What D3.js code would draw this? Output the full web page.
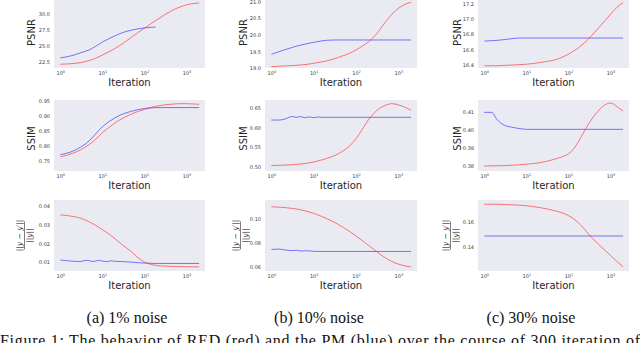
<!DOCTYPE html>
<html><head><meta charset="utf-8">
<script src="https://cdn.jsdelivr.net/npm/d3@7"></script>
<style>html,body{margin:0;padding:0;background:#fff;}svg{display:block;}</style>
</head><body>
<svg id="chart" width="640" height="343"></svg>
<script>
// ---------------- data ----------------
const iterations = [1,2,3,5,7,10,15,20,30,50,70,100,150,200,300,500,700,1000,1500,2000];

// (a) 1% noise
const redPsnr1  = [22.1,22.2,22.35,22.7,23.05,23.55,24.15,24.6,25.35,26.4,27.1,27.8,28.6,29.15,29.9,30.75,31.15,31.5,31.72,31.8];
const pmIterPsnr1 = [1,2,3,5,7,10,15,20,30,50,70,100,150,185];
const pmPsnr1   = [23.1,23.5,23.9,24.4,24.95,25.6,26.2,26.6,27.1,27.5,27.7,27.85,27.95,28.0];
const redSsim1  = [0.763,0.775,0.786,0.805,0.822,0.843,0.863,0.876,0.891,0.906,0.914,0.921,0.928,0.932,0.936,0.939,0.940,0.940,0.939,0.938];
const pmSsim1   = [0.770,0.782,0.795,0.818,0.840,0.863,0.882,0.893,0.905,0.915,0.920,0.924,0.926,0.927,0.927,0.927,0.927,0.927,0.927,0.927];
const redRes1   = [0.0351,0.0343,0.0334,0.0313,0.0295,0.0273,0.0247,0.0225,0.0192,0.0155,0.0125,0.0101,0.0088,0.0083,0.008,0.0078,0.0077,0.0077,0.0076,0.0076];
const pmIterRes1 = [1,1.5,2,3,4,5,6,8,10,13,16,20,30,50,70,100,200,2000];
const pmRes1    = [0.0112,0.0108,0.0106,0.0104,0.011,0.0108,0.0104,0.011,0.0107,0.0104,0.0108,0.0105,0.0104,0.0101,0.0098,0.0096,0.0094,0.0094];

// (b) 10% noise
const redPsnr2  = [19.05,19.07,19.08,19.1,19.12,19.15,19.19,19.22,19.28,19.38,19.45,19.55,19.69,19.8,20.02,20.4,20.62,20.8,20.93,20.98];
const pmPsnr2   = [19.42,19.55,19.62,19.7,19.74,19.78,19.82,19.84,19.85,19.85,19.85,19.85,19.85,19.85,19.85,19.85,19.85,19.85,19.85,19.85];
const redSsim2  = [0.503,0.504,0.505,0.507,0.509,0.512,0.517,0.521,0.528,0.541,0.553,0.572,0.601,0.622,0.643,0.658,0.662,0.659,0.652,0.645];
const pmIterSsim2 = [1,1.5,2,2.5,3,4,5,6,8,10,13,16,20,2000];
const pmSsim2   = [0.620,0.620,0.622,0.626,0.629,0.627,0.629,0.626,0.628,0.626,0.628,0.627,0.627,0.627];
const redRes2   = [0.1103,0.1097,0.109,0.1077,0.1064,0.1048,0.1024,0.1005,0.0975,0.093,0.0897,0.0858,0.0812,0.0778,0.073,0.0673,0.0644,0.0622,0.0605,0.0598];
const pmIterRes2 = [1,1.5,2,3,4,5,7,10,20,2000];
const pmRes2    = [0.0745,0.0748,0.0742,0.0735,0.0738,0.0732,0.0734,0.0729,0.0728,0.0728];

// (c) 30% noise
const redPsnr3  = [16.39,16.39,16.395,16.4,16.405,16.41,16.42,16.43,16.445,16.47,16.5,16.54,16.6,16.65,16.74,16.87,16.96,17.06,17.16,17.21];
const pmPsnr3   = [16.71,16.72,16.73,16.745,16.75,16.75,16.75,16.75,16.75,16.75,16.75,16.75,16.75,16.75,16.75,16.75,16.75,16.75,16.75,16.75];
const redSsim3  = [0.380,0.3801,0.3802,0.3805,0.3807,0.381,0.3814,0.3818,0.3826,0.384,0.3851,0.3868,0.3912,0.3962,0.4035,0.4105,0.4138,0.4152,0.4128,0.4107];
const pmIterSsim3 = [1,1.5,2,3,5,8,10,2000];
const pmSsim3   = [0.41,0.41,0.406,0.4028,0.4015,0.4007,0.4005,0.4005];
const redRes3   = [0.1748,0.1748,0.1746,0.1743,0.174,0.1736,0.1728,0.1722,0.1711,0.1693,0.1678,0.1655,0.1615,0.1575,0.1505,0.1425,0.1378,0.1328,0.1272,0.1236];
const pmIterRes3 = [1,2000];
const pmRes3    = [0.1488,0.1488];

// tick labels
const xTickPowers = [0,1,2,3];
const psnrTicks1 = [22.5,25.0,27.5,30.0];
const psnrTicks2 = [19.0,19.5,20.0,20.5,21.0];
const psnrTicks3 = [16.4,16.6,16.8,17.0,17.2];
const ssimTicks1 = [0.75,0.80,0.85,0.90,0.95];
const ssimTicks2 = [0.50,0.55,0.60,0.65];
const ssimTicks3 = [0.38,0.39,0.40,0.41];
const resTicks1 = [0.01,0.02,0.03,0.04];
const resTicks2 = [0.06,0.08,0.10];
const resTicks3 = [0.14,0.16];
const captions = ["(a) 1% noise","(b) 10% noise","(c) 30% noise"];
const figureLine = "Figure 1: The behavior of RED (red) and the PM (blue) over the course of 300 iteration of";

// ---------------- layout ----------------
const cols = [{l:54,r:205,yl:31,fr:24,cap:127},{l:265,r:417,yl:243,fr:240,cap:319},{l:478,r:629,yl:457,fr:450,cap:531}];
const rows = [{t:-3,b:68},{t:100,b:171},{t:200,b:271}];
const xDomain = [Math.pow(10,-0.15), Math.pow(10,3.44)];

const panels = [
 {c:0,r:0,dom:[21.5,32.74],ticks:psnrTicks1,fmt:".1f",lab:"PSNR",red:[iterations,redPsnr1],pm:[pmIterPsnr1,pmPsnr1]},
 {c:1,r:0,dom:[19.009,21.14],ticks:psnrTicks2,fmt:".1f",lab:"PSNR",red:[iterations,redPsnr2],pm:[iterations,pmPsnr2]},
 {c:2,r:0,dom:[16.361,17.283],ticks:psnrTicks3,fmt:".1f",lab:"PSNR",red:[iterations,redPsnr3],pm:[iterations,pmPsnr3]},
 {c:0,r:1,dom:[0.7157,0.9523],ticks:ssimTicks1,fmt:".2f",lab:"SSIM",red:[iterations,redSsim1],pm:[iterations,pmSsim1]},
 {c:1,r:1,dom:[0.489,0.6715],ticks:ssimTicks2,fmt:".2f",lab:"SSIM",red:[iterations,redSsim2],pm:[pmIterSsim2,pmSsim2]},
 {c:2,r:1,dom:[0.3772,0.4169],ticks:ssimTicks3,fmt:".2f",lab:"SSIM",red:[iterations,redSsim3],pm:[pmIterSsim3,pmSsim3]},
 {c:0,r:2,dom:[0.0054,0.043],ticks:resTicks1,fmt:".2f",lab:null,red:[iterations,redRes1],pm:[pmIterRes1,pmRes1]},
 {c:1,r:2,dom:[0.0564,0.116],ticks:resTicks2,fmt:".2f",lab:null,red:[iterations,redRes2],pm:[pmIterRes2,pmRes2]},
 {c:2,r:2,dom:[0.1201,0.1783],ticks:resTicks3,fmt:".2f",lab:null,red:[iterations,redRes3],pm:[pmIterRes3,pmRes3]},
];

const svg = d3.select("#chart");
const textCol = "#262626";
const tickCol = "#3a3a3a";

panels.forEach(p => {
  const col = cols[p.c], row = rows[p.r];
  const x = d3.scaleLog().domain(xDomain).range([col.l, col.r]);
  const y = d3.scaleLinear().domain(p.dom).range([row.b, row.t]);
  const g = svg.append("g");
  g.append("rect").attr("x",col.l).attr("y",row.t).attr("width",col.r-col.l).attr("height",row.b-row.t).attr("fill","#eaeaf2");

  const clipId = "clip"+p.c+p.r;
  g.append("clipPath").attr("id",clipId).append("rect")
    .attr("x",col.l).attr("y",row.t).attr("width",col.r-col.l).attr("height",row.b-row.t);

  const line = d3.line().x(d=>x(d[0])).y(d=>y(d[1])).curve(d3.curveMonotoneX);
  const pmPts = d3.zip(p.pm[0], p.pm[1]);
  const redPts = d3.zip(p.red[0], p.red[1]);
  g.append("path").attr("d",line(pmPts)).attr("fill","none").attr("stroke","#2020ff")
    .attr("stroke-opacity",0.7).attr("stroke-width",0.85).attr("clip-path","url(#"+clipId+")");
  g.append("path").attr("d",line(redPts)).attr("fill","none").attr("stroke","#ff2020")
    .attr("stroke-opacity",0.7).attr("stroke-width",0.85).attr("clip-path","url(#"+clipId+")");

  // y axis
  const yAxis = d3.axisLeft(y).tickValues(p.ticks).tickFormat(d3.format(p.fmt)).tickSize(0).tickPadding(4);
  const ya = g.append("g").attr("transform","translate("+col.l+",0)").call(yAxis);
  ya.select(".domain").remove();
  ya.selectAll("text").attr("font-family","DejaVu Sans").attr("font-size",5).attr("fill",tickCol);

  // x axis
  const xAxis = d3.axisBottom(x).tickValues(xTickPowers.map(e=>Math.pow(10,e))).tickFormat("").tickSize(0);
  const xa = g.append("g").attr("transform","translate(0,"+row.b+")").call(xAxis);
  xa.select(".domain").remove();
  xa.selectAll(".tick").each(function(d,i){
    const t = d3.select(this).append("text").attr("y",7).attr("font-family","DejaVu Sans")
      .attr("font-size",5).attr("fill",tickCol).attr("text-anchor","middle");
    t.append("tspan").text("10");
    t.append("tspan").attr("dy",-2).attr("font-size",3.5).text(String(xTickPowers[i]));
  });

  svg.append("text").attr("x",(col.l+col.r)/2).attr("y",row.b+17.5).attr("text-anchor","middle")
    .attr("font-family","DejaVu Sans").attr("font-size",10).attr("fill",textCol).text("Iteration");

  const cy = (row.t+row.b)/2 + (p.r===1?3:0);
  if (p.lab) {
    svg.append("text").attr("transform","translate("+(col.yl+3.5)+","+cy+") rotate(-90)")
      .attr("text-anchor","middle").attr("font-family","DejaVu Sans").attr("font-size",10)
      .attr("fill",textCol).text(p.lab);
  } else {
    const fg = svg.append("g").attr("transform","translate("+col.fr+","+cy+") rotate(-90)");
    fg.append("text").attr("y",-2).attr("text-anchor","middle").attr("font-family","DejaVu Serif")
      .attr("font-size",7.5).attr("fill",textCol)
      .html("||<tspan font-style='italic'>y</tspan> − <tspan font-style='italic'>y</tspan>′||");
    fg.append("line").attr("x1",-14).attr("x2",14).attr("y1",0.5).attr("y2",0.5)
      .attr("stroke",textCol).attr("stroke-width",0.6);
    fg.append("text").attr("y",7.5).attr("text-anchor","middle").attr("font-family","DejaVu Serif")
      .attr("font-size",7.5).attr("fill",textCol)
      .html("||<tspan font-style='italic'>y</tspan>||");
  }
});

cols.forEach((c,i)=>{
  svg.append("text").attr("x",c.cap).attr("y",323).attr("text-anchor","middle")
    .attr("font-family","Liberation Serif").attr("font-size",16).attr("fill","#111").text(captions[i]);
});
svg.append("text").attr("x",0).attr("y",346).attr("font-family","Liberation Serif").attr("font-size",16)
  .attr("fill","#111").attr("textLength",640).attr("lengthAdjust","spacing").text(figureLine);
</script>
</body></html>
